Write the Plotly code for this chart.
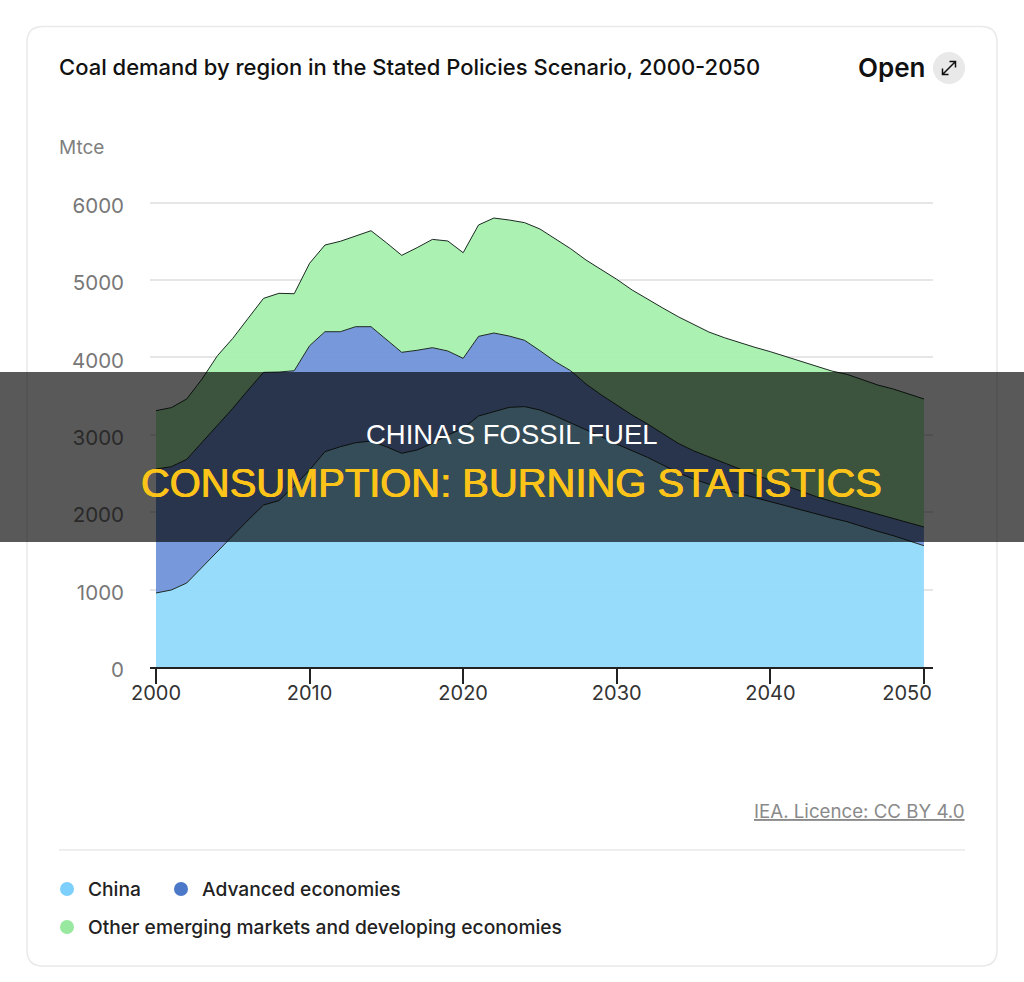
import plotly.graph_objects as go

W, H = 1024, 982

# Year axis
years = list(range(2000, 2051))

# Cumulative stack levels in Mtce: China, then China + advanced economies,
# then the world total including other emerging markets.
china = [956, 995, 1085, 1290, 1499, 1705, 1899, 2093, 2149, 2339,
         2545, 2782, 2846, 2898, 2920, 2846, 2761, 2804, 2890, 2997,
         3083, 3243, 3299, 3355, 3364, 3320, 3243, 3157, 3062, 2976,
         2881, 2794, 2709, 2610, 2510, 2429, 2360, 2296, 2240, 2192,
         2136, 2084, 2028, 1977, 1925, 1877, 1813, 1753, 1697, 1632, 1567]
china_advanced = [2558, 2588, 2683, 2898, 3127, 3342, 3579, 3807, 3811, 3828,
                  4151, 4332, 4332, 4397, 4397, 4234, 4066, 4092, 4126, 4083,
                  3988, 4272, 4315, 4276, 4221, 4087, 3945, 3828, 3656, 3514,
                  3385, 3256, 3140, 3010, 2890, 2794, 2717, 2631, 2553, 2481,
                  2416, 2342, 2270, 2200, 2140, 2084, 2028, 1973, 1916, 1860, 1809]
total = [3312, 3351, 3463, 3721, 4022, 4246, 4505, 4763, 4828, 4823,
         5216, 5452, 5500, 5568, 5637, 5482, 5319, 5418, 5525, 5504,
         5353, 5711, 5801, 5775, 5741, 5659, 5530, 5404, 5258, 5138,
         5009, 4871, 4750, 4638, 4526, 4422, 4328, 4255, 4190, 4130,
         4074, 4009, 3954, 3889, 3824, 3781, 3708, 3643, 3592, 3531, 3463]

y_ticks = [0, 1000, 2000, 3000, 4000, 5000, 6000]
x_ticks = [2000, 2010, 2020, 2030, 2040, 2050]
# The last year label is nudged left so it stays inside the card's plot width
x_tick_text = ["2000", "2010", "2020", "2030", "2040", "2050" + "\u00a0" * 6]

series_names = ["China", "Advanced economies",
                "Other emerging markets and developing economies"]
fill_colors = ["rgba(146,218,251,0.95)", "rgba(112,146,216,0.95)", "rgba(166,240,174,0.95)"]
dot_colors = ["#7dd0fb", "#4b78c8", "#98e89f"]

UI_FONT = "Inter"
BANNER_FONT = "Liberation Sans"


def px(x):
    return x / W


def py(y):
    return 1 - y / H


def rect_path(x0, y0, x1, y1, r):
    return (f"M {px(x0 + r)} {py(y0)} L {px(x1 - r)} {py(y0)} "
            f"Q {px(x1)} {py(y0)} {px(x1)} {py(y0 + r)} "
            f"L {px(x1)} {py(y1 - r)} Q {px(x1)} {py(y1)} {px(x1 - r)} {py(y1)} "
            f"L {px(x0 + r)} {py(y1)} Q {px(x0)} {py(y1)} {px(x0)} {py(y1 - r)} "
            f"L {px(x0)} {py(y0 + r)} Q {px(x0)} {py(y0)} {px(x0 + r)} {py(y0)} Z")


def label(text, x, y, size, color, anchor="left", font=UI_FONT, weight=400, shadow=None):
    f = dict(family=font, size=size, color=color, weight=weight)
    if shadow:
        f["shadow"] = shadow
    return dict(text=text, x=px(x), y=py(y), xref="paper", yref="paper",
                xanchor=anchor, yanchor="middle", showarrow=False,
                borderpad=0, borderwidth=0, font=f)


def dot(cx, cy, r, color):
    return dict(type="circle", xref="paper", yref="paper", layer="above",
                x0=px(cx - r), x1=px(cx + r), y0=py(cy + r), y1=py(cy - r),
                fillcolor=color, line=dict(width=0))


def hline(x0, x1, y, color, width):
    return dict(type="line", xref="paper", yref="paper", layer="above",
                x0=px(x0), x1=px(x1), y0=py(y), y1=py(y),
                line=dict(color=color, width=width))


fig = go.Figure()

edge = dict(color="#1c2a22", width=1)
fig.add_trace(go.Scatter(x=years, y=china, name=series_names[0], mode="lines",
                         line=edge, fill="tozeroy", fillcolor=fill_colors[0]))
fig.add_trace(go.Scatter(x=years, y=china_advanced, name=series_names[1], mode="lines",
                         line=edge, fill="tonexty", fillcolor=fill_colors[1]))
fig.add_trace(go.Scatter(x=years, y=total, name=series_names[2], mode="lines",
                         line=edge, fill="tonexty", fillcolor=fill_colors[2]))

shapes = [
    # Card outline
    dict(type="path", path=rect_path(27, 26.5, 997, 966, 16), xref="paper", yref="paper",
         layer="below", fillcolor="#ffffff", line=dict(color="#e9e9e9", width=1.5)),
    # Divider above the legend
    hline(59, 965, 850, "#e9e9e9", 1.5),
    # Expand button and its arrow glyph
    dot(949, 68, 16, "#e9e9e9"),
    dict(type="path", xref="paper", yref="paper", layer="above",
         path=(f"M {px(942.5)} {py(74.5)} L {px(955.5)} {py(61.5)} "
               f"M {px(949.5)} {py(61.5)} L {px(955.5)} {py(61.5)} L {px(955.5)} {py(67.5)} "
               f"M {px(942.5)} {py(68.5)} L {px(942.5)} {py(74.5)} L {px(948.5)} {py(74.5)}"),
         line=dict(color="#111111", width=1.5)),
    # Legend dots
    dot(67, 889, 7, dot_colors[0]),
    dot(181, 889, 7, dot_colors[1]),
    dot(67, 927, 7, dot_colors[2]),
    # Headline band across the chart
    dict(type="rect", xref="paper", yref="paper", layer="above",
         x0=0, x1=1, y0=py(542), y1=py(372),
         fillcolor="rgba(0,0,0,0.65)", line=dict(width=0)),
]

annotations = [
    label("Coal demand by region in the Stated Policies Scenario, 2000-2050", 59, 67, 22, "#111111", weight=500),
    label("Open", 926, 68, 26, "#111111", anchor="right", weight=600),
    label("Mtce", 59, 148, 19, "#808080"),
    label("<u>IEA. Licence: CC BY 4.0</u>", 965, 811, 18.7, "#8a8a8a", anchor="right"),
    label(series_names[0], 88, 889, 19.2, "#222222", weight=500),
    label(series_names[1], 202, 889, 19.2, "#222222", weight=500),
    label(series_names[2], 88, 927, 19.2, "#222222", weight=500),
    label("CHINA'S FOSSIL FUEL", 511.5, 434, 27.5, "#ffffff", anchor="center", font=BANNER_FONT),
    label("CONSUMPTION: BURNING STATISTICS", 511, 483, 39.9, "#fcc419", anchor="center", font=BANNER_FONT,
          shadow="0.5px 0 0 #fcc419, -0.5px 0 0 #fcc419"),
]

fig.update_layout(
    width=W, height=H,
    margin=dict(l=0, r=0, t=0, b=0, autoexpand=False),
    paper_bgcolor="#ffffff", plot_bgcolor="rgba(0,0,0,0)",
    showlegend=False,
    shapes=shapes,
    annotations=annotations,
    xaxis=dict(domain=[px(150), px(933)], range=[1999.61, 2050.59],
               tickmode="array", tickvals=x_ticks, ticktext=x_tick_text,
               ticks="outside", ticklen=15, tickwidth=1.5, tickcolor="#222222",
               ticklabelstandoff=-8,
               tickfont=dict(family=UI_FONT, size=20, color="#333333"),
               showgrid=False, zeroline=False, automargin=False,
               showline=True, linecolor="#222222", linewidth=2),
    yaxis=dict(domain=[py(667), py(190)], range=[0, 6163],
               tickmode="array", tickvals=y_ticks, ticktext=[str(v) for v in y_ticks],
               ticks="", ticklabelstandoff=25, ticklabelshift=3, automargin=False,
               tickfont=dict(family=UI_FONT, size=20.5, color="#777777"),
               showgrid=True, gridcolor="#e6e6e6", gridwidth=1.5,
               zeroline=False, showline=False),
)

fig.write_html("out.html")
